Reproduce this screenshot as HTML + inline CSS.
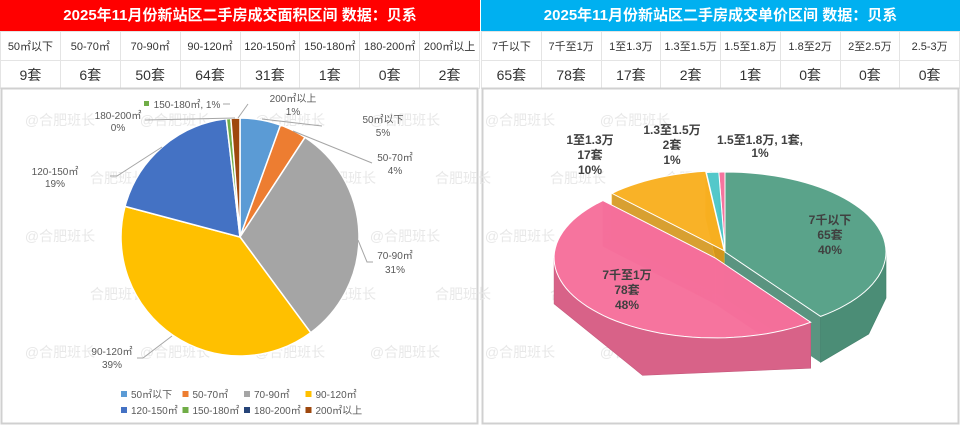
<!DOCTYPE html>
<html><head><meta charset="utf-8">
<style>
html,body{margin:0;padding:0;background:#fff;}
body{width:960px;height:429px;position:relative;overflow:hidden;font-family:"Liberation Sans","Noto Sans CJK SC",sans-serif;}
.hdr{position:absolute;top:0;height:31px;color:#fff;font-weight:bold;font-size:15px;line-height:31px;text-align:center;}
table{position:absolute;top:31px;border-collapse:collapse;table-layout:fixed;}
td{border:1px solid #e4e4e4;text-align:center;color:#333;padding:0;overflow:hidden;white-space:nowrap;}
tr.r1 td{height:28px;font-size:11px;}
tr.r2 td{height:27px;font-size:14px;}
svg{position:absolute;left:0;top:0;}
</style></head><body>
<div class="hdr" style="left:0;width:480px;background:#ff0000;">2025年11月份新站区二手房成交面积区间 数据：贝系</div>
<div class="hdr" style="left:481px;width:479px;background:#00b0f0;">2025年11月份新站区二手房成交单价区间 数据：贝系</div>
<table style="left:0;width:480px;">
<tr class="r1"><td>50㎡以下</td><td>50-70㎡</td><td>70-90㎡</td><td>90-120㎡</td><td>120-150㎡</td><td>150-180㎡</td><td>180-200㎡</td><td>200㎡以上</td></tr>
<tr class="r2"><td>9套</td><td>6套</td><td>50套</td><td>64套</td><td>31套</td><td>1套</td><td>0套</td><td>2套</td></tr>
</table>
<table style="left:481px;width:479px;">
<tr class="r1"><td>7千以下</td><td>7千至1万</td><td>1至1.3万</td><td>1.3至1.5万</td><td>1.5至1.8万</td><td>1.8至2万</td><td>2至2.5万</td><td>2.5-3万</td></tr>
<tr class="r2"><td>65套</td><td>78套</td><td>17套</td><td>2套</td><td>1套</td><td>0套</td><td>0套</td><td>0套</td></tr>
</table>
<svg id="chart" width="960" height="429" style="pointer-events:none" font-family="Liberation Sans, Noto Sans CJK SC, sans-serif"></svg>
<script>
// ---- data ----
const areaCats=["50㎡以下","50-70㎡","70-90㎡","90-120㎡","120-150㎡","150-180㎡","180-200㎡","200㎡以上"];
const areaVals=[9,6,50,64,31,1,0,2];
const areaColors=["#5b9bd5","#ed7d31","#a5a5a5","#ffc000","#4472c4","#70ad47","#264478","#9e480e"];
const priceCats=["7千以下","7千至1万","1至1.3万","1.3至1.5万","1.5至1.8万"];
const priceVals=[65,78,17,2,1];
const priceColors=["#55a086","#f66f9b","#f9b020","#4dc6c8","#f66f9b"];

const svg=document.getElementById('chart');
const NS='http://www.w3.org/2000/svg';
function mk(tag,attrs,parent){const e=document.createElementNS(NS,tag);for(const k in attrs)e.setAttribute(k,attrs[k]);(parent||svg).appendChild(e);return e;}
function txt(x,y,s,attrs){const t=mk('text',Object.assign({x:x,y:y,'font-size':11,fill:'#595959','text-anchor':'middle'},attrs||{}));t.textContent=s;return t;}

// panel borders
const p1=mk('rect',{x:1.5,y:88.5,width:476,height:335,fill:'none',stroke:'#d0d0d0','stroke-width':2});


const p2=mk('rect',{x:482.5,y:88.5,width:476,height:335,fill:'none',stroke:'#d0d0d0','stroke-width':2});



// watermarks
for(let r=0;r<5;r++)for(let c=0;c<6;c++){
  const w=txt(60+c*115+(r%2)*58,125+r*58,(r%2?'合肥班长':'@合肥班长'),{fill:'#e8e8e8','font-size':14});
  
  
}

// ---- left 2D pie ----
const cx=240,cy=237,R=119;
const aTot=areaVals.reduce((a,b)=>a+b,0);
function pt(c,r,deg){const a=deg*Math.PI/180;return [c[0]+r*Math.sin(a),c[1]-r*Math.cos(a)];}
let acc=0;
areaVals.forEach((v,i)=>{
  const a0=acc/aTot*360, a1=(acc+v)/aTot*360; acc+=v;
  if(v<=0)return;
  const s=pt([cx,cy],R,a0),e=pt([cx,cy],R,a1);
  const large=(a1-a0)>180?1:0;
  const p=mk('path',{d:`M${cx},${cy}L${s[0]},${s[1]}A${R},${R} 0 ${large} 1 ${e[0]},${e[1]}Z`,fill:areaColors[i],stroke:'#fff','stroke-width':1.5});
  
  
});
// labels with leader lines
const leaders=[
 {l:"M262,119L322,126",t:[[383,123,"50㎡以下"],[383,136,"5%"]]},
 {l:"M293,131L372,163",t:[[395,161,"50-70㎡"],[395,174,"4%"]]},
 {l:"M358,240L367,262L373,262",t:[[395,259,"70-90㎡"],[395,273,"31%"]]},
 {l:"M172,336L143,358L137,358",t:[[112,355,"90-120㎡"],[112,368,"39%"]]},
 {l:"M162,147L117,176L110,176",t:[[55,175,"120-150㎡"],[55,187,"19%"]]},
 {l:"M230,104L223,104",t:[[187,108,"150-180㎡, 1%"]]},
 {l:"M145,120L235,118",t:[[118,119,"180-200㎡"],[118,131,"0%"]]},
 {l:"M238,118L248,104",t:[[293,102,"200㎡以上"],[293,115,"1%"]]}
];
leaders.forEach((o,i)=>{
  const l=mk('path',{d:o.l,fill:'none',stroke:'#a6a6a6','stroke-width':1});
  
  
  o.t.forEach(t=>{const e=txt(t[0],t[1],t[2],{'font-size':10});
    
    });
});
const gm=mk('rect',{x:144,y:101,width:5,height:5,fill:'#70ad47'});


// legend
areaCats.forEach((c,i)=>{
  const col=i%4,row=Math.floor(i/4);
  const x=121+col*61.5,y=391+row*16;
  const g=mk('g',{});
  
  
  mk('rect',{x:x,y:y,width:6,height:6,fill:areaColors[i]},g);
  const t=mk('text',{x:x+10,y:y+7,'font-size':10,fill:'#595959'},g);t.textContent=c;
});

// ---- right 3D pie ----
const pcx=725,pcy=252,RX=161,RY=80,D=46;
const explode=[0,13,2,0,0];
const pTot=priceVals.reduce((a,b)=>a+b,0);
function ep(c,deg){const a=deg*Math.PI/180;return [c[0]+RX*Math.sin(a),c[1]-RY*Math.cos(a)];}
function shade(hex,f){const n=parseInt(hex.slice(1),16);let r=(n>>16)&255,g=(n>>8)&255,b=n&255;r=Math.round(r*f);g=Math.round(g*f);b=Math.round(b*f);return `rgb(${r},${g},${b})`;}
let sl=[];acc=0;
priceVals.forEach((v,i)=>{const a0=acc/pTot*360,a1=(acc+v)/pTot*360;acc+=v;sl.push({i,a0,a1,mid:(a0+a1)/2});});
sl.forEach(s=>{const a=s.mid*Math.PI/180;const e=explode[s.i];s.c=[pcx+e*Math.sin(a),pcy-e*Math.cos(a)*0.7];});
// draw back-to-front by mid y
const order=sl.slice().sort((a,b)=>(-Math.cos(a.mid*Math.PI/180))-(-Math.cos(b.mid*Math.PI/180)));
function arcPath(c,a0,a1,dy){let d='';const n=Math.max(2,Math.ceil((a1-a0)/3));for(let k=0;k<=n;k++){const p=ep([c[0],c[1]+dy],a0+(a1-a0)*k/n);d+=(k?'L':'')+p[0].toFixed(1)+','+p[1].toFixed(1);}return d;}
order.forEach(s=>{
  const g=mk('g',{});
  
  
  const col=priceColors[s.i],c=s.c;
  // radial faces
  [s.a0,s.a1].forEach(a=>{const p=ep(c,a);
    mk('path',{d:`M${c[0]},${c[1]}L${p[0]},${p[1]}L${p[0]},${p[1]+D}L${c[0]},${c[1]+D}Z`,fill:shade(col,0.85),stroke:col,'stroke-width':0.5,'fill-opacity':0.9},g);});
  // outer wall (front part)
  const lo=Math.max(s.a0,90),hi=Math.min(s.a1,270);
  if(hi>lo){
    const top=arcPath(c,lo,hi,0);
    const bot=arcPath(c,hi,lo,D);
    mk('path',{d:'M'+top+'L'+bot.replace(/^/,'')+'Z',fill:shade(col,0.88),stroke:shade(col,0.8),'stroke-width':0.6},g);
  }
  // top face
  mk('path',{d:`M${c[0]},${c[1]}L`+arcPath(c,s.a0,s.a1,0)+'Z',fill:col,stroke:'#fff','stroke-width':1,'fill-opacity':0.97},g);
});
const plabels=[
 [[830,224,"7千以下"],[830,239,"65套"],[830,254,"40%"]],
 [[627,279,"7千至1万"],[627,294,"78套"],[627,309,"48%"]],
 [[590,144,"1至1.3万"],[590,159,"17套"],[590,174,"10%"]],
 [[672,134,"1.3至1.5万"],[672,149,"2套"],[672,164,"1%"]],
 [[760,144,"1.5至1.8万, 1套,"],[760,157,"1%"]]
];
plabels.forEach(ls=>ls.forEach(t=>{const e=txt(t[0],t[1],t[2],{'font-size':12,'font-weight':'bold',fill:'#404040'});
  
  }));
</script>
</body></html>
